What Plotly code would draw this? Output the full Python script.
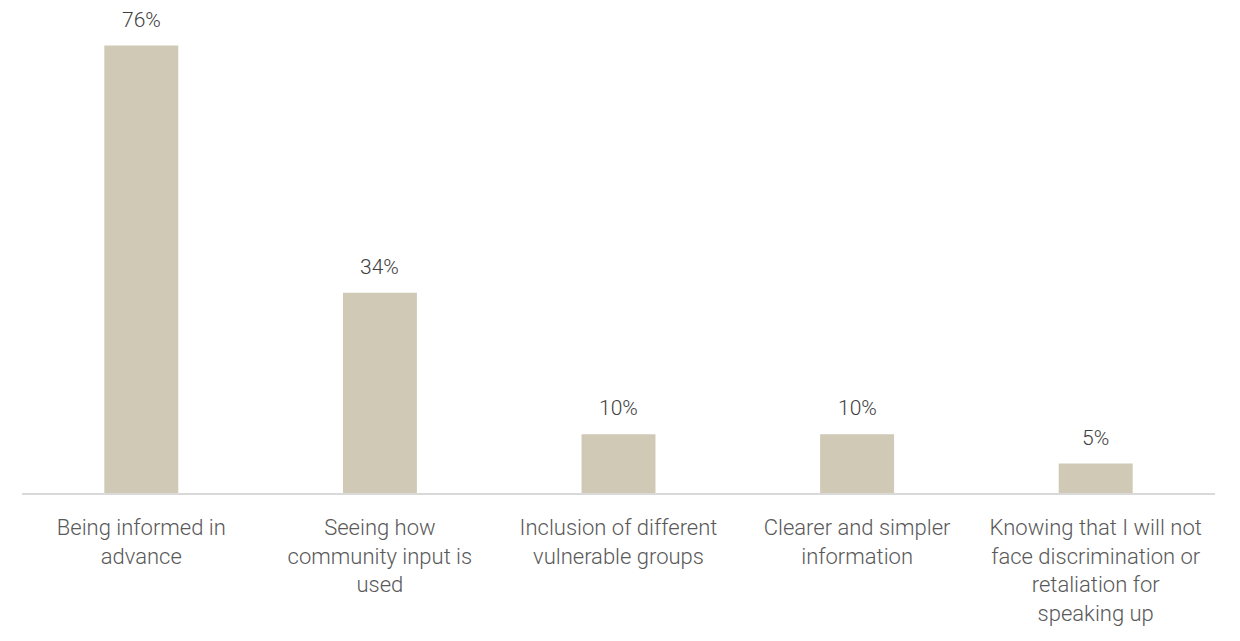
import plotly.graph_objects as go

categories = [
    "Being informed in<br>advance",
    "Seeing how<br>community input is<br>used",
    "Inclusion of different<br>vulnerable groups",
    "Clearer and simpler<br>information",
    "Knowing that I will not<br>face discrimination or<br>retaliation for<br>speaking up",
]
values = [76, 34, 10, 10, 5]
value_labels = ["76%", "34%", "10%", "10%", "5%"]

fig = go.Figure(
    go.Bar(
        x=categories,
        y=values,
        marker=dict(color="#D0C9B6", line=dict(width=0)),
        width=0.31,
        hoverinfo="skip",
    )
)

for c, v, t in zip(categories, values, value_labels):
    fig.add_annotation(
        x=c, y=v, text=t, showarrow=False,
        yanchor="bottom", yshift=12,
        font=dict(family="Roboto", size=21, color="#404040", weight=300),
    )

fig.update_layout(
    width=1240,
    height=641,
    margin=dict(l=14, r=33, t=14, b=156),
    plot_bgcolor="white",
    paper_bgcolor="white",
    showlegend=False,
    font=dict(family="Roboto", color="#595959"),
)
fig.update_xaxes(
    showline=True,
    linecolor="#D9D9D9",
    linewidth=1.5,
    tickfont=dict(family="Roboto", size=22, color="#595959", weight=300),
    ticks="outside",
    ticklen=14,
    tickcolor="rgba(0,0,0,0)",
    showgrid=False,
)
fig.update_yaxes(
    range=[0, 80],
    visible=False,
    showgrid=False,
    zeroline=False,
)

fig.write_html("out.html")
